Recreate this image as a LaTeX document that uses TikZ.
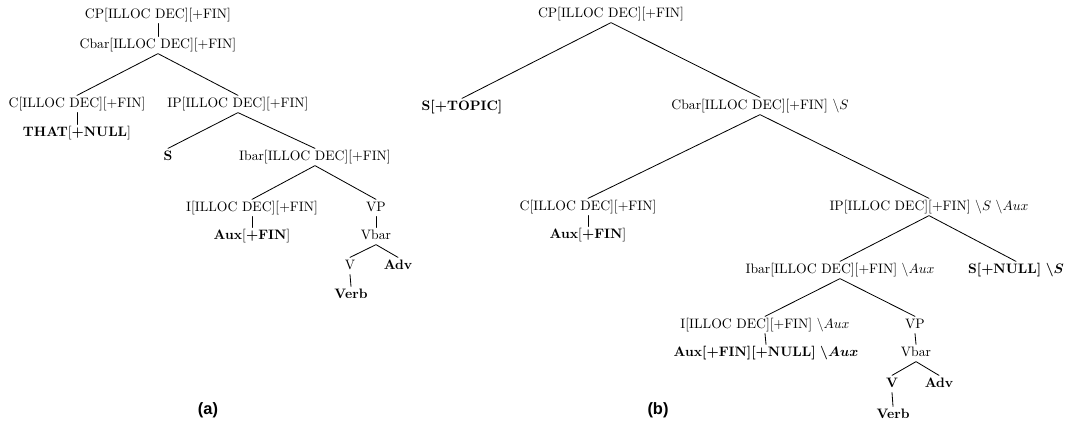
\documentclass[tikz,border=0pt]{standalone}
\usepackage{fontspec}
\newfontfamily\panelfont{Liberation Sans}
\begin{document}
\begin{tikzpicture}[x=0.7306pt, y=-0.7306pt, line width=0.6pt, line join=round, line cap=round,
  every node/.style={inner sep=1.5pt, text height=7pt, text depth=2pt},
  panel/.style={font=\panelfont\bfseries\fontsize{12}{14}\selectfont, text height=9pt, text depth=3pt}]
\useasboundingbox (0,0) rectangle (1067,429);
% tree (a)
\node (cpA) at (158,15) {CP[ILLOC DEC][+FIN]};
\node (cbarA) at (158,45) {Cbar[ILLOC DEC][+FIN]};
\node (cA) at (77,104) {C[ILLOC DEC][+FIN]};
\node (ipA) at (238,104) {IP[ILLOC DEC][+FIN]};
\node (thatA) at (77,133) {\textbf{THAT}[\textbf{+NULL}]};
\node (sA) at (168,157) {\textbf{S}};
\node (ibarA) at (315,157) {Ibar[ILLOC DEC][+FIN]};
\node (iA) at (252,208) {I[ILLOC DEC][+FIN]};
\node (vpA) at (376,208) {VP};
\node (auxA) at (252,236) {\textbf{Aux}[\textbf{+FIN}]};
\node (vbarA) at (376,236) {Vbar};
\node (vA) at (350,266) {V};
\node (advA) at (398,266) {\textbf{Adv}};
\node (verbA) at (351,295) {\textbf{Verb}};
\draw (cpA.south)--(cbarA.north);
\draw (cbarA.south)--(cA.north) (cbarA.south)--(ipA.north);
\draw (cA.south)--(thatA.north);
\draw (ipA.south)--(sA.north) (ipA.south)--(ibarA.north);
\draw (ibarA.south)--(iA.north) (ibarA.south)--(vpA.north);
\draw (iA.south)--(auxA.north);
\draw (vpA.south)--(vbarA.north);
\draw (vbarA.south)--(vA.north) (vbarA.south)--(advA.north);
\draw (vA.south)--(verbA.north);
% tree (b)
\node (cpB) at (611,14) {CP[ILLOC DEC][+FIN]};
\node (stopB) at (462,107) {\textbf{S[+TOPIC]}};
\node (cbarB) at (760,106) {Cbar[ILLOC DEC][+FIN] $\backslash S$};
\node (cB) at (588,207) {C[ILLOC DEC][+FIN]};
\node (auxB) at (588,235) {\textbf{Aux}[\textbf{+FIN}]};
\node (ipB) at (929,207) {IP[ILLOC DEC][+FIN] $\backslash S$ $\backslash Aux$};
\node (ibarB) at (840,270) {Ibar[ILLOC DEC][+FIN] $\backslash Aux$};
\node (snullB) at (1016,270) {\textbf{S[+NULL]} {\boldmath$\backslash S$}};
\node (iB) at (765,325) {I[ILLOC DEC][+FIN] $\backslash Aux$};
\node (vpB) at (915,325) {VP};
\node (auxnullB) at (766,353) {\textbf{Aux[+FIN][+NULL]}\ {\boldmath$\backslash Aux$}};
\node (vbarB) at (916,353) {Vbar};
\node (vB) at (892,384) {\textbf{V}};
\node (advB) at (939,384) {\textbf{Adv}};
\node (verbB) at (893,415) {\textbf{Verb}};
\draw (cpB.south)--(stopB.north) (cpB.south)--(cbarB.north);
\draw (cbarB.south)--(cB.north) (cbarB.south)--(ipB.north);
\draw (cB.south)--(auxB.north);
\draw (ipB.south)--(ibarB.north) (ipB.south)--(snullB.north);
\draw (ibarB.south)--(iB.north) (ibarB.south)--(vpB.north);
\draw (iB.south)--(auxnullB.north);
\draw (vpB.south)--(vbarB.north);
\draw (vbarB.south)--(vB.north) (vbarB.south)--(advB.north);
\draw (vB.south)--(verbB.north);
% panel labels
\node[panel] (labA) at (208,410) {(a)};
\node[panel] (labB) at (658,410) {(b)};
\end{tikzpicture}
\end{document}
